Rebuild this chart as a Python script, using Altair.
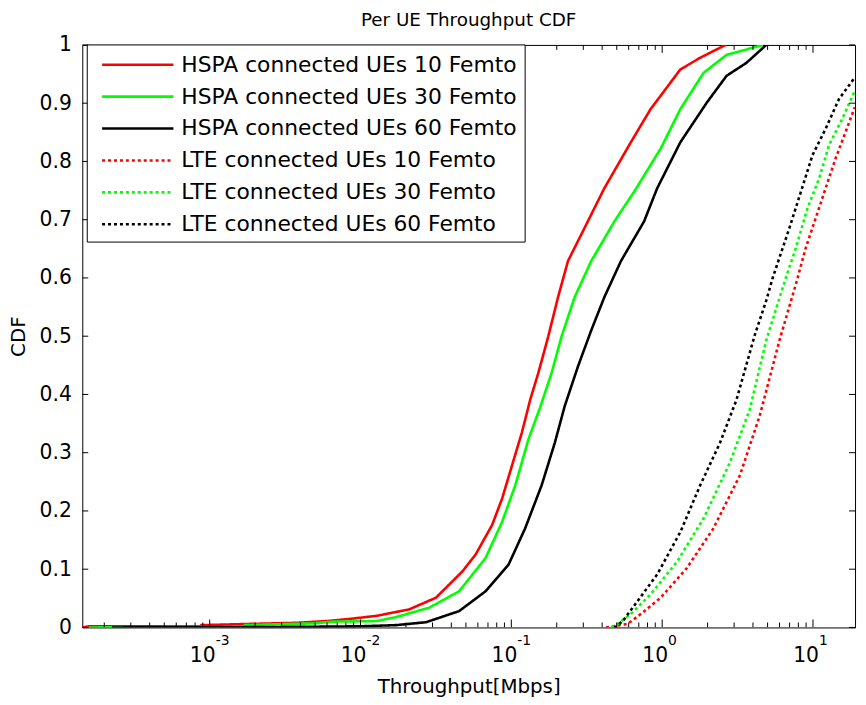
import altair as alt
import pandas as pd

FONT = "DejaVu Sans"

names = [
    "HSPA connected UEs 10 Femto",
    "HSPA connected UEs 30 Femto",
    "HSPA connected UEs 60 Femto",
    "LTE connected UEs 10 Femto",
    "LTE connected UEs 30 Femto",
    "LTE connected UEs 60 Femto",
]
colors = ["#ff0000", "#00ff00", "#000000", "#ff0000", "#00ff00", "#000000"]
dashes = [[1, 0], [1, 0], [1, 0], [3, 3], [3, 3], [3, 3]]

# Throughput [Mbps] and CDF values
hspa10_x = [1.43e-4, 1.58e-4, 8.7e-4, 8.8e-4, 1.79e-3, 3.8e-3, 6.0e-3, 8.75e-3, 0.0128, 0.021, 0.0316,
            0.0473, 0.0579, 0.0746, 0.0868, 0.101, 0.1176, 0.1334, 0.151, 0.1755, 0.204, 0.2374,
            0.298, 0.4137, 0.62, 0.839, 1.321, 1.787, 2.54, 2.66]
hspa10_y = [0.0, 0.002, 0.002, 0.004, 0.006, 0.008, 0.011, 0.015, 0.020, 0.031, 0.051,
            0.096, 0.125, 0.176, 0.221, 0.278, 0.335, 0.391, 0.437, 0.499, 0.567, 0.629,
            0.680, 0.754, 0.833, 0.890, 0.958, 0.978, 0.998, 1.0]

hspa30_x = [1.58e-4, 1.70e-3, 1.71e-3, 2.42e-3, 4.91e-3, 6.65e-3, 0.0128, 0.0173, 0.0286, 0.045,
            0.0674, 0.0868, 0.1062, 0.1298, 0.1548, 0.1849, 0.215, 0.2628, 0.3386, 0.482,
            0.652, 0.977, 1.321, 1.88, 2.674, 3.60, 4.66]
hspa30_y = [0.0, 0.001, 0.004, 0.005, 0.007, 0.010, 0.011, 0.018, 0.034, 0.062,
            0.119, 0.181, 0.244, 0.323, 0.377, 0.437, 0.499, 0.567, 0.629, 0.697,
            0.748, 0.822, 0.890, 0.952, 0.983, 0.992, 1.0]

hspa60_x = [2.25e-4, 3.8e-3, 0.01, 0.0173, 0.0272, 0.045, 0.0674, 0.0959, 0.1234, 0.1588,
            0.1942, 0.2259, 0.2765, 0.3386, 0.4137, 0.533, 0.7586, 0.927, 1.321, 1.977,
            2.674, 3.61, 4.90]
hspa60_y = [0.0, 0.001, 0.002, 0.004, 0.009, 0.028, 0.062, 0.108, 0.170, 0.244,
            0.317, 0.380, 0.448, 0.510, 0.567, 0.629, 0.697, 0.754, 0.833, 0.901,
            0.947, 0.969, 1.0]

lte10_x = [0.4246, 0.5888, 0.7211, 0.977, 1.459, 2.186, 3.275, 4.431, 5.998, 7.714,
           8.97, 10.43, 12.13, 14.12, 16.42, 18.92]
lte10_y = [0.0, 0.006, 0.023, 0.051, 0.102, 0.170, 0.261, 0.363, 0.493, 0.590,
           0.652, 0.703, 0.754, 0.805, 0.850, 0.893]

lte30_x = [0.460, 0.506, 0.6198, 0.8393, 1.256, 1.880, 2.812, 3.808, 4.897, 6.622,
           7.714, 9.20, 10.99, 12.77, 15.62, 18.92]
lte30_y = [0.0, 0.006, 0.023, 0.057, 0.113, 0.187, 0.283, 0.374, 0.493, 0.601,
           0.652, 0.720, 0.771, 0.828, 0.873, 0.921]

lte60_x = [0.4819, 0.506, 0.5598, 0.6853, 0.927, 1.321, 1.787, 2.419, 3.112, 4.111,
           4.897, 5.419, 5.998, 6.982, 8.318, 9.93, 12.13, 14.86, 18.92]
lte60_y = [0.0, 0.003, 0.014, 0.045, 0.091, 0.164, 0.244, 0.317, 0.391, 0.502,
           0.561, 0.601, 0.635, 0.686, 0.748, 0.811, 0.856, 0.907, 0.944]

series_x = [hspa10_x, hspa30_x, hspa60_x, lte10_x, lte30_x, lte60_x]
series_y = [hspa10_y, hspa30_y, hspa60_y, lte10_y, lte30_y, lte60_y]

x_domain = [1.43e-4, 19.0]
decades = [1e-3, 1e-2, 1e-1, 1.0, 10.0]
decade_base = ["10", "10", "10", "10", "10"]
decade_exp = ["-3", "-2", "-1", "0", "1"]
minor_mult = [2, 3, 4, 5, 6, 7, 8, 9]
minor_decades = [1e-4, 1e-3, 1e-2, 1e-1, 1.0]
y_ticks = [0, 0.1, 0.2, 0.3, 0.4, 0.5, 0.6, 0.7, 0.8, 0.9, 1.0]

W, H = 780, 588

rows = []
for n, xs, ys in zip(names, series_x, series_y):
    for i, (a, b) in enumerate(zip(xs, ys)):
        rows.append({"series": n, "x": a, "cdf": b, "ord": i})
df = pd.DataFrame(rows)

minor_vals = [m * d for d in minor_decades for m in minor_mult if x_domain[0] <= m * d <= x_domain[1]]
minor_df = pd.DataFrame({"v": minor_vals})
major_df = pd.DataFrame({"v": decades, "base": decade_base, "exp": decade_exp})
yt_df = pd.DataFrame({"v": y_ticks})

xscale = alt.Scale(type="log", domain=x_domain, nice=False)
yscale = alt.Scale(domain=[0, 1], nice=False)
color_scale = alt.Scale(domain=names, range=colors)
dash_scale = alt.Scale(domain=names, range=dashes)

x_axis = alt.Axis(labels=False, ticks=False, domain=False, grid=False,
                  titleX=W / 2, titleY=60, titleBaseline="middle", titleAlign="center",
                  titleFont=FONT, titleFontSize=20, titleFontWeight="normal", titleColor="black")
y_axis = alt.Axis(values=y_ticks, format=".1~f", ticks=False, domain=False, grid=False,
                  labelPadding=11, labelFont=FONT, labelFontSize=20.5, labelColor="black",
                  titleX=-64, titleY=H / 2, titleBaseline="middle", titleAlign="center",
                  titleFont=FONT, titleFontSize=20, titleFontWeight="normal", titleColor="black")

XT = "Throughput[Mbps]"
YT = "CDF"

line_layers = []
for n in names:
    line_layers.append(
        alt.Chart(df[df["series"] == n]).mark_line(strokeWidth=2.6, clip=True).encode(
            x=alt.X("x:Q", scale=xscale, axis=x_axis, title=XT),
            y=alt.Y("cdf:Q", scale=yscale, axis=y_axis, title=YT),
            color=alt.Color("series:N", scale=color_scale, legend=None),
            strokeDash=alt.StrokeDash("series:N", scale=dash_scale, legend=None),
            order="ord:Q",
        )
    )

def xrule(data, y0, y1):
    return alt.Chart(data).mark_rule(color="black", strokeWidth=1, clip=True).encode(
        x=alt.X("v:Q", scale=xscale, axis=x_axis, title=XT),
        y=alt.value(y0), y2=alt.value(y1))

def yrule(x0, x1):
    return alt.Chart(yt_df).mark_rule(color="black", strokeWidth=1).encode(
        y=alt.Y("v:Q", scale=yscale, axis=y_axis, title=YT),
        x=alt.value(x0), x2=alt.value(x1))

tick_layers = [
    xrule(minor_df, 0, 5), xrule(minor_df, H, H - 5),
    xrule(major_df, 0, 8), xrule(major_df, H, H - 8),
    yrule(0, 6), yrule(W, W - 6),
]

base_lbl = alt.Chart(major_df).mark_text(font=FONT, fontSize=20.5, align="center",
                                         baseline="middle", dx=-7, color="black").encode(
    x=alt.X("v:Q", scale=xscale, axis=x_axis, title=XT),
    y=alt.value(H + 29), text="base:N")
exp_lbl = alt.Chart(major_df).mark_text(font=FONT, fontSize=14, align="left",
                                        baseline="middle", dx=6, color="black").encode(
    x=alt.X("v:Q", scale=xscale, axis=x_axis, title=XT),
    y=alt.value(H + 14), text="exp:N")

main = alt.layer(*line_layers, *tick_layers, base_lbl, exp_lbl)

# Legend drawn inside the plot area
leg_df = pd.DataFrame({"series": names})
leg_scale = alt.Scale(type="point", domain=names, range=[20, 181], padding=0)
box = alt.Chart(pd.DataFrame({"k": [0]})).mark_rect(fill="white", stroke="black", strokeWidth=1).encode(
    x=alt.value(5), x2=alt.value(447), y=alt.value(0), y2=alt.value(199))
leg_lines = alt.Chart(leg_df).mark_rule(strokeWidth=2.6).encode(
    x=alt.value(20), x2=alt.value(92),
    y=alt.Y("series:N", scale=leg_scale, axis=None),
    color=alt.Color("series:N", scale=color_scale, legend=None),
    strokeDash=alt.StrokeDash("series:N", scale=dash_scale, legend=None))
leg_text = alt.Chart(leg_df).mark_text(font=FONT, fontSize=22, align="left", baseline="middle",
                                       color="black").encode(
    x=alt.value(100), y=alt.Y("series:N", scale=leg_scale, axis=None), text="series:N")
legend = alt.layer(box, leg_lines, leg_text)

chart = alt.layer(main, legend).resolve_scale(y="independent").properties(
    width=W, height=H,
    background="white",
    title=alt.TitleParams("Per UE Throughput CDF", font=FONT, fontSize=18.5, fontWeight="normal",
                          color="black", anchor="middle", offset=6),
    autosize=alt.AutoSizeParams(type="none"),
    padding={"left": 75, "top": 34, "right": 3, "bottom": 75},
).configure_view(stroke="black", strokeWidth=1)

chart.save("out.html", embed_options={"renderer": "svg", "actions": False})
